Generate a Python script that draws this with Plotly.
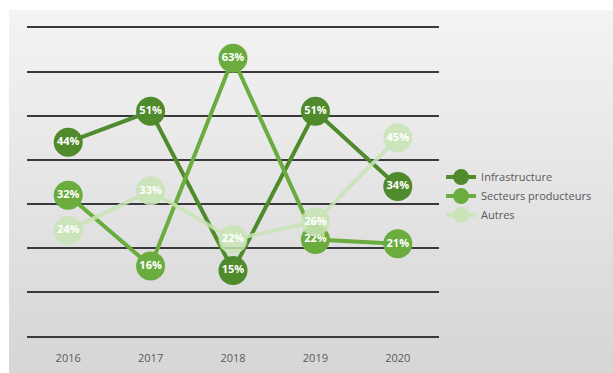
import plotly.graph_objects as go

years = ["2016", "2017", "2018", "2019", "2020"]
infrastructure = [44, 51, 15, 51, 34]
secteurs = [32, 16, 63, 22, 21]
autres = [24, 33, 22, 26, 45]

series = [
    ("Infrastructure", infrastructure, "#4f8a2c"),
    ("Secteurs producteurs", secteurs, "#6aac3e"),
    ("Autres", autres, "rgba(200,228,180,0.85)"),
]

fig = go.Figure()
for name, vals, col in series:
    fig.add_trace(go.Scatter(
        x=years, y=vals, name=name, mode="lines+markers+text",
        line=dict(color=col, width=4),
        marker=dict(color=col, size=29, line=dict(width=0)),
        text=[f"<b>{v}%</b>" for v in vals], textposition="middle center",
        textfont=dict(color="white", size=11, family="Open Sans"),
    ))

fig.update_layout(
    width=613, height=373,
    margin=dict(l=27, r=174, t=26, b=35),
    paper_bgcolor="white", plot_bgcolor="rgba(0,0,0,0)",
    showlegend=True,
    legend=dict(x=1.005, y=0.455, xanchor="left", yanchor="middle",
                font=dict(size=11, color="#595959", family="Open Sans"),
                bgcolor="rgba(0,0,0,0)", tracegroupgap=0),
    xaxis=dict(type="category", range=[-0.5, 4.5], showgrid=False, zeroline=False,
               showline=False, ticks="", ticklabelstandoff=12, automargin=False,
               tickfont=dict(size=11, color="#595959", family="Open Sans")),
    yaxis=dict(range=[-0.3, 70.3], tick0=0, dtick=10, showgrid=True, gridcolor="#3a3a3a", gridwidth=2,
               zeroline=False, showticklabels=False, fixedrange=True, automargin=False),
)

# gradient background strips (paper coords derived from pixel positions)
plot_l, plot_w = 27, 412
plot_b, plot_h = 338, 312
def py(px):
    return (plot_b - px) / plot_h
def pxx(px):
    return (px - plot_l) / plot_w
n = 30
top_px, bot_px = 10, 373
for i in range(n):
    a = top_px + (bot_px - top_px) * i / n
    b = top_px + (bot_px - top_px) * (i + 1) / n
    c = int(243 - 28 * i / (n - 1))
    fig.add_shape(type="rect", xref="paper", yref="paper",
                  x0=pxx(9), x1=pxx(613), y0=py(b + 1), y1=py(a),
                  fillcolor=f"rgb({c},{c},{c})", line=dict(width=0), layer="below")

fig.write_html("out.html")
